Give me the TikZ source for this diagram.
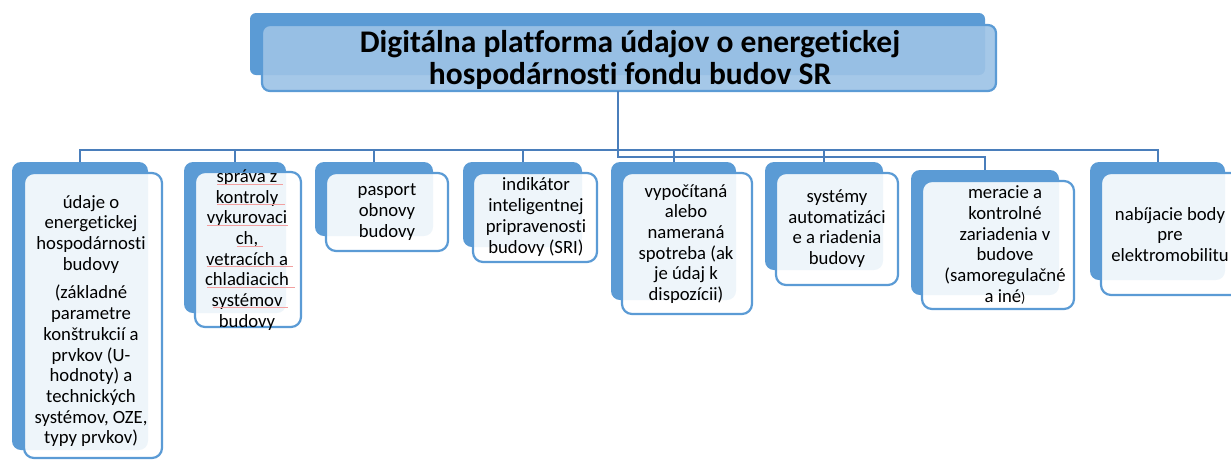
\documentclass[tikz,border=0pt]{standalone}
\usepackage{fontspec}
\setmainfont{Carlito}[RawFeature=-liga]
\definecolor{ofblue}{HTML}{5B9BD5}
\definecolor{lineblue}{HTML}{4A7EBB}
\definecolor{titlefill}{HTML}{9DC3E6}
\definecolor{spellred}{HTML}{F2A0A0}
\begin{document}
\begin{tikzpicture}[x=1pt,y=-1pt,
 back/.style={fill=ofblue, rounded corners=9pt, inner sep=0pt, outer sep=0pt},
 front/.style={draw=ofblue, line width=2.2pt, fill=white, fill opacity=0.9, rounded corners=10pt, inner sep=0pt, outer sep=0pt},
 tfront/.style={draw=ofblue, line width=2.2pt, fill=titlefill, fill opacity=0.92, rounded corners=8pt, inner sep=0pt, outer sep=0pt},
 lbl/.style={align=center, font=\fontsize{18.7}{20.7}\selectfont, text=black, inner sep=0pt},
 conn/.style={draw=lineblue, line width=2pt},
 spell/.style={draw=spellred, line width=0.9pt}]
\useasboundingbox (0,0) rectangle (1231,459);
% title
\node[back, rounded corners=6pt, minimum width=735pt, minimum height=62pt] (b0) at (617.5,44) {};
\node[tfront, minimum width=734pt, minimum height=66pt] (f0) at (629,58) {};
\node[align=center, font=\fontsize{31.5}{31.5}\selectfont\bfseries, inner sep=0pt] (t0) at (630,60) {Digitálna platforma údajov o energetickej\\hospodárnosti fondu budov SR};
% boxes
\node[back, minimum width=136pt, minimum height=288pt] (b1) at (80,306) {};
\node[front, minimum width=138pt, minimum height=285pt] (f1) at (93,315.5) {};
\node[lbl] (t1) at (91,321) {údaje o\\energetickej\\hospodárnosti\\budovy\\[8pt](základné\\parametre\\konštrukcií a\\prvkov (U-\\hodnoty) a\\technických\\systémov, OZE,\\typy prvkov)};
\node[back, minimum width=102pt, minimum height=151pt] (b2) at (235,237.5) {};
\node[front, minimum width=106pt, minimum height=155pt] (f2) at (248,249.5) {};
\node[lbl] (t2) at (247,250) {správa z\\kontroly\\vykurovaci\\ch,\\vetracích a\\chladiacich\\systémov\\budovy};
\foreach \xa/\xb/\yy in {217/283/184, 217/285/204, 207/288/225, 237/263/246, 207/293/266, 207/295/287, 213/288/307}
  {\draw[spell] (\xa,\yy) -- (\xb,\yy);}
\node[back, minimum width=118pt, minimum height=74pt] (b3) at (374,199) {};
\node[front, minimum width=122pt, minimum height=78pt] (f3) at (387,212) {};
\node[lbl] (t3) at (387,212) {pasport\\obnovy\\budovy};
\node[back, minimum width=119pt, minimum height=85pt] (b4) at (522.5,204.5) {};
\node[front, minimum width=124pt, minimum height=89pt] (f4) at (535,217.5) {};
\node[lbl] (t4) at (536,217) {indikátor\\inteligentnej\\pripravenosti\\budovy (SRI)};
\node[back, minimum width=125pt, minimum height=138pt] (b5) at (673.5,231) {};
\node[front, minimum width=130pt, minimum height=141pt] (f5) at (687,243.5) {};
\node[lbl] (t5) at (686,244) {vypočítaná\\alebo\\nameraná\\spotreba (ak\\je údaj k\\dispozícii)};
\node[back, minimum width=118pt, minimum height=108pt] (b6) at (824,216) {};
\node[front, minimum width=122pt, minimum height=112pt] (f6) at (837,229) {};
\node[lbl] (t6) at (837,228.5) {systémy\\automatizáci\\e a riadenia\\budovy};
\node[back, minimum width=148pt, minimum height=125pt] (b7) at (985,232.5) {};
\node[front, minimum width=152pt, minimum height=128pt] (f7) at (998,245) {};
\node[lbl] (t7) at (1005,245) {meracie a\\kontrolné\\zariadenia v\\budove\\(samoregulačné\\a iné{\fontsize{14}{14}\selectfont)}};
\node[back, minimum width=135pt, minimum height=118pt] (b8) at (1157.5,221) {};
\node[front, minimum width=140pt, minimum height=122pt] (f8) at (1171,234) {};
\node[lbl] (t8) at (1170,234.5) {nabíjacie body\\pre\\elektromobilitu};
% connectors
\coordinate (hub) at (617.5,157);
\draw[conn] (b1.north) -- ++(0,-12) -| (b8.north);
\foreach \n in {2,3,4,5,6}{\draw[conn] (b\n.north) -- ++(0,-12);}
\draw[conn] (f0.south -| hub) -- (hub) -| (b7.north);
\end{tikzpicture}
\end{document}
